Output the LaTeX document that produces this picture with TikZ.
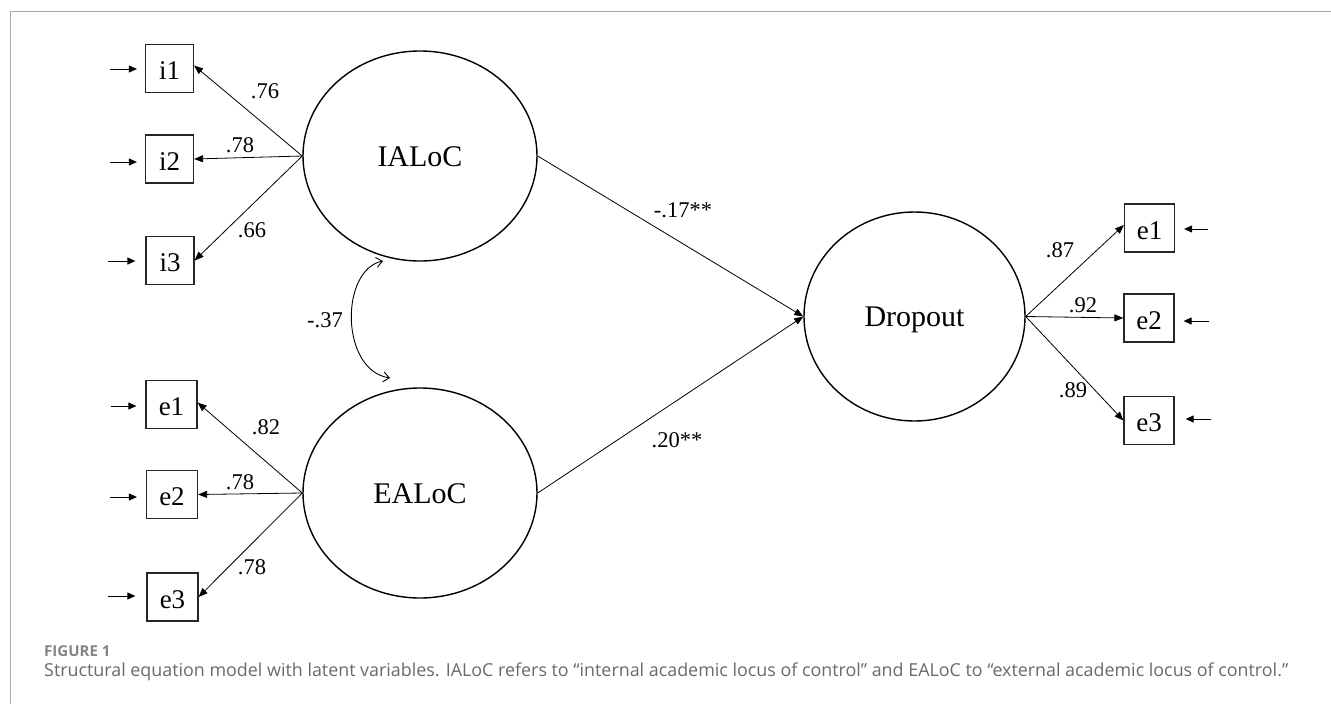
\documentclass[tikz,border=0pt]{standalone}
\usepackage{fontspec}
\setmainfont{Liberation Serif}
\newfontfamily\capfont{Open Sans}
\usetikzlibrary{arrows.meta,shapes.geometric}
\definecolor{capgray}{HTML}{6A6A6A}
\definecolor{figgray}{HTML}{858585}
\definecolor{framegray}{HTML}{A8A8A8}
\begin{document}
\begin{tikzpicture}[x=1pt,y=-1pt,
  latent/.style={draw, ellipse, line width=1.4pt, inner sep=0pt,
    font=\fontsize{30}{32}\selectfont, text height=20pt, text depth=0pt},
  obs/.style={draw=black!85, line width=1.2pt, minimum height=48pt,
    inner sep=0pt, font=\fontsize{27}{30}\selectfont, text height=22pt, text depth=0pt},
  conn/.style={line width=0.8pt, -{Triangle[length=9pt,width=7pt]}},
  errarr/.style={line width=1pt, -{Triangle[length=8pt,width=7pt]}},
  lab/.style={font=\fontsize{22.5}{24}\selectfont, inner sep=0pt},
]
\useasboundingbox (0,0) rectangle (1331,704);
\fill[white] (0,0) rectangle (1331,704);
\draw[framegray, line width=1pt] (10,704) -- (10,11) -- (1331,11);

% latent variables
\node[latent, minimum width=234pt, minimum height=210pt] (ia) at (420,156) {IALoC};
\node[latent, minimum width=234pt, minimum height=210pt] (ea) at (420,493) {EALoC};
\node[latent, minimum width=221pt, minimum height=209pt] (dr) at (914.5,316.5) {Dropout};

% indicators
\node[obs, minimum width=48pt] (i1) at (169.5,68.5) {i1};
\node[obs, minimum width=48pt] (i2) at (169.5,159) {i2};
\node[obs, minimum width=48pt] (i3) at (170,260.5) {i3};
\node[obs, minimum width=51pt] (le1) at (171.5,404.5) {e1};
\node[obs, minimum width=51pt] (le2) at (172,494.5) {e2};
\node[obs, minimum width=51pt] (le3) at (172.5,597) {e3};
\node[obs, minimum width=50pt] (re1) at (1149.5,228) {e1};
\node[obs, minimum width=50pt] (re2) at (1149,318) {e2};
\node[obs, minimum width=50pt] (re3) at (1149,420.5) {e3};

% error inputs
\coordinate (ni1) at (110,69);
\coordinate (ni2) at (110,162);
\coordinate (ni3) at (108,261);
\coordinate (nle1) at (111,406);
\coordinate (nle2) at (110,497);
\coordinate (nle3) at (108,596);
\coordinate (nre1) at (1208,229);
\coordinate (nre2) at (1209,321);
\coordinate (nre3) at (1211,419);
\draw[errarr] (ni1) -- ([xshift=-8pt]i1.west |- ni1);
\draw[errarr] (ni2) -- ([xshift=-8pt]i2.west |- ni2);
\draw[errarr] (ni3) -- ([xshift=-10pt]i3.west |- ni3);
\draw[errarr] (nle1) -- ([xshift=-9pt]le1.west |- nle1);
\draw[errarr] (nle2) -- ([xshift=-9pt]le2.west |- nle2);
\draw[errarr] (nle3) -- ([xshift=-11pt]le3.west |- nle3);
\draw[errarr] (nre1) -- ([xshift=9pt]re1.east |- nre1);
\draw[errarr] (nre2) -- ([xshift=9pt]re2.east |- nre2);
\draw[errarr] (nre3) -- ([xshift=11pt]re3.east |- nre3);

% loadings
\draw[conn] (ia.west) -- ([yshift=3pt]i1.east);
\draw[conn] (ia.west) -- (i2.east);
\draw[conn] (ia.west) -- (i3.east);
\draw[conn] (ea.west) -- ([yshift=2pt]le1.east);
\draw[conn] (ea.west) -- (le2.east);
\draw[conn] (ea.west) -- (le3.east);
\draw[conn] (dr.east) -- ([yshift=3pt]re1.west);
\draw[conn] (dr.east) -- (re2.west);
\draw[conn] (dr.east) -- (re3.west);

% structural paths
\draw[conn] (ia.east) -- (dr.west);
\draw[conn] (ea.east) -- (dr.west);

% covariance
\coordinate (cv1) at (383,261);
\coordinate (cv2) at (390,378);
\draw[line width=0.9pt, {Straight Barb[length=6pt,width=10pt]}-{Straight Barb[length=6pt,width=10pt]}]
  (cv1) .. controls (340,270) and (340,370) .. (cv2);

% labels
\node[lab] (l1) at (265,91) {.76};
\node[lab] (l2) at (240,145) {.78};
\node[lab] (l3) at (252,230) {.66};
\node[lab] (l4) at (325,320) {-.37};
\node[lab] (l5) at (266,427) {.82};
\node[lab] (l6) at (240,482) {.78};
\node[lab] (l7) at (252,567) {.78};
\node[lab] (l8) at (683,210) {-.17**};
\node[lab] (l9) at (677,440) {.20**};
\node[lab] (l10) at (1060,250) {.87};
\node[lab] (l11) at (1083,305) {.92};
\node[lab] (l12) at (1073,390) {.89};

% caption
\node[anchor=base west, inner sep=0pt, text=figgray, font=\capfont\bfseries\fontsize{15}{17}\selectfont] (fig) at (44,656) {FIGURE 1};
\node[anchor=base west, inner sep=0pt, text=capgray, font=\capfont\fontsize{18}{20}\selectfont] (cap) at (44,676)
  {\resizebox{1244pt}{!}{Structural equation model with latent variables. IALoC refers to “internal academic locus of control” and EALoC to “external academic locus of control.”}};
\end{tikzpicture}
\end{document}
